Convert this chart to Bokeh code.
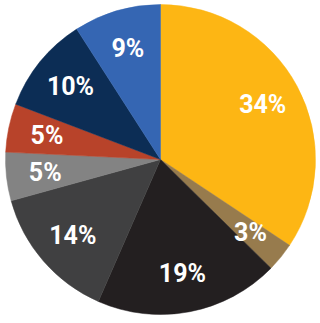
import math
from bokeh.plotting import figure
from bokeh.models import Range1d, ColumnDataSource
from bokeh.core.properties import value
from bokeh.embed import file_html
from bokeh.resources import INLINE

labels = ["34%", "3%", "19%", "14%", "5%", "5%", "10%", "9%"]
values = [34, 3, 19, 14, 5, 5, 10, 9]
colors = ["#FDB614", "#977B4D", "#231F20", "#404041", "#838383", "#B8432A", "#0C2D55", "#3566B3"]

W, H = 320, 323
cx, cy, R = 160, H - 159, 155
label_r = 116

total = sum(values)
starts, ends, lx, ly = [], [], [], []
acc = 0.0
for v in values:
    t0 = acc / total * 2 * math.pi
    acc += v
    t1 = acc / total * 2 * math.pi
    starts.append(math.pi / 2 - t0)
    ends.append(math.pi / 2 - t1)
    tm = (t0 + t1) / 2
    lx.append(cx + label_r * math.sin(tm))
    ly.append(cy + label_r * math.cos(tm))

src = ColumnDataSource(dict(start=starts, end=ends, color=colors, x=lx, y=ly, label=labels))

p = figure(width=W, height=H, x_range=Range1d(0, W), y_range=Range1d(0, H),
           output_backend="svg", toolbar_location=None, min_border=0)
p.axis.visible = False
p.grid.visible = False
p.outline_line_color = None
p.background_fill_color = "white"
p.border_fill_color = "white"

p.wedge(x=cx, y=cy, radius=R, start_angle="start", end_angle="end", direction="clock",
        fill_color="color", line_color="color", line_width=0.5, source=src)
p.text(x="x", y="y", text="label", source=src, text_color="white",
       text_font=value("Roboto"), text_font_style="bold", text_font_size="25px",
       text_align="center", text_baseline="middle")

open("out.html", "w").write(file_html(p, INLINE))
